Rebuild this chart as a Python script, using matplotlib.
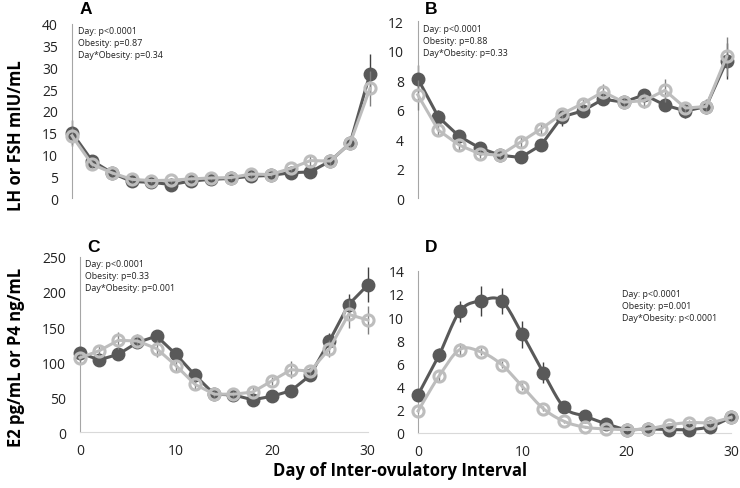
import numpy as np
import matplotlib
matplotlib.use("Agg")
import matplotlib.pyplot as plt

plt.rcParams['font.family'] = ['Open Sans', 'DejaVu Sans']

days = [0, 2, 4, 6, 8, 10, 12, 14, 16, 18, 20, 22, 24, 26, 28, 30]

# panel A: LH
lh_dark = [15.0, 8.6, 5.8, 3.8, 3.6, 3.1, 3.9, 4.3, 4.5, 5.0, 5.2, 5.8, 6.0, 8.5, 12.6, 28.6]
lh_light = [14.3, 7.8, 5.8, 4.3, 4.0, 4.1, 4.4, 4.6, 4.7, 5.5, 5.4, 6.8, 8.6, 8.5, 12.6, 25.2]
lh_dark_err = [3.0, 1.0, 0.6, 0.8, 0.8, 0.8, 0.8, 0.6, 0.6, 0.8, 0.6, 0.7, 0.6, 1.0, 1.2, 4.5]
lh_light_err = [2.0, 0.8, 0.5, 0.6, 0.6, 0.6, 0.6, 0.5, 0.5, 0.6, 0.5, 0.6, 1.2, 0.8, 1.0, 4.0]

# panel B: FSH
fsh_dark = [8.1, 5.5, 4.2, 3.4, 2.9, 2.75, 3.6, 5.5, 5.9, 6.7, 6.5, 7.0, 6.3, 5.9, 6.2, 9.3]
fsh_light = [7.0, 4.6, 3.6, 3.0, 2.9, 3.8, 4.7, 5.7, 6.4, 7.2, 6.5, 6.6, 7.3, 6.1, 6.2, 9.6]
fsh_dark_err = [0.9, 0.5, 0.4, 0.3, 0.2, 0.2, 0.3, 0.6, 0.4, 0.4, 0.3, 0.4, 0.4, 0.5, 0.4, 1.2]
fsh_light_err = [1.0, 0.4, 0.4, 0.3, 0.2, 0.4, 0.4, 0.4, 0.4, 0.5, 0.3, 0.5, 0.8, 0.4, 0.5, 1.3]

# panel C: E2
e2_dark = [113, 103, 111, 128, 137, 111, 81, 54, 53, 46, 51, 59, 81, 130, 182, 210]
e2_light = [106, 116, 131, 130, 119, 95, 68, 54, 54, 57, 73, 89, 87, 119, 168, 160]
e2_dark_err = [10, 6, 8, 8, 6, 7, 5, 4, 4, 3, 4, 4, 6, 12, 15, 25]
e2_light_err = [8, 7, 12, 10, 12, 8, 6, 4, 4, 7, 6, 12, 6, 12, 20, 20]

# panel D: P4
p4_dark = [3.3, 6.7, 10.5, 11.4, 11.4, 8.5, 5.2, 2.2, 1.45, 0.8, 0.3, 0.35, 0.3, 0.3, 0.55, 1.35]
p4_light = [1.9, 4.9, 7.2, 7.0, 5.9, 4.0, 2.1, 1.0, 0.5, 0.35, 0.3, 0.35, 0.7, 0.9, 0.9, 1.35]
p4_dark_err = [0.3, 0.6, 0.9, 1.3, 1.1, 1.2, 0.9, 0.3, 0.2, 0.1, 0.1, 0.1, 0.1, 0.1, 0.2, 0.2]
p4_light_err = [0.2, 0.4, 0.6, 0.3, 0.3, 0.3, 0.2, 0.1, 0.1, 0.1, 0.1, 0.1, 0.1, 0.2, 0.2, 0.2]

notes = {
    'A': "Day: p<0.0001\nObesity: p=0.87\nDay*Obesity: p=0.34",
    'B': "Day: p<0.0001\nObesity: p=0.88\nDay*Obesity: p=0.33",
    'C': "Day: p<0.0001\nObesity: p=0.33\nDay*Obesity: p=0.001",
    'D': "Day: p<0.0001\nObesity: p=0.001\nDay*Obesity: p<0.0001",
}

DARK = '#595959'
LIGHT = '#bdbdbd'


def smooth(x, y, n=12):
    # catmull-rom through the points, only used to draw the curved line in D
    x = np.asarray(x, float)
    y = np.asarray(y, float)
    px = np.concatenate([[2 * x[0] - x[1]], x, [2 * x[-1] - x[-2]]])
    py = np.concatenate([[2 * y[0] - y[1]], y, [2 * y[-1] - y[-2]]])
    t = np.linspace(0, 1, n, endpoint=False)[:, None]
    xs, ys = [], []
    for i in range(1, len(px) - 2):
        for arr, out in ((px, xs), (py, ys)):
            p0, p1, p2, p3 = arr[i - 1], arr[i], arr[i + 1], arr[i + 2]
            c = 0.5 * ((2 * p1) + (-p0 + p2) * t + (2 * p0 - 5 * p1 + 4 * p2 - p3) * t ** 2
                       + (-p0 + 3 * p1 - 3 * p2 + p3) * t ** 3)
            out.extend(c.ravel())
    xs.append(x[-1])
    ys.append(y[-1])
    return np.array(xs), np.array(ys)


def panel(rect, dark, light, derr, lerr, ymax, ystep, letter, note, note_xy,
          bottom=False, curved=False):
    ax = fig.add_axes(rect)
    ax.errorbar(days, dark, yerr=derr, fmt='none', ecolor='#404040', elinewidth=1, clip_on=False, zorder=2)
    ax.errorbar(days, light, yerr=lerr, fmt='none', ecolor='#808080', elinewidth=1, clip_on=False, zorder=4)
    if curved:
        ax.plot(*smooth(days, dark), color=DARK, lw=2.2, zorder=3, clip_on=False)
        ax.plot(*smooth(days, light), color=LIGHT, lw=2.2, zorder=5, clip_on=False)
    else:
        ax.plot(days, dark, color=DARK, lw=2.2, zorder=3, clip_on=False)
        ax.plot(days, light, color=LIGHT, lw=2.2, zorder=5, clip_on=False)
    ax.plot(days, dark, 'o', ms=9, color=DARK, mec=DARK, zorder=3, clip_on=False)
    ax.plot(days, light, 'o', ms=8, mfc='none', mec=LIGHT, mew=2.2, zorder=5, clip_on=False)
    ax.set_xlim(0, 30)
    ax.set_ylim(0, ymax)
    ax.set_yticks(np.arange(0, ymax + ystep / 2, ystep))
    for s in ('top', 'right'):
        ax.spines[s].set_visible(False)
    ax.spines['left'].set_color('#a6a6a6')
    ax.spines['bottom'].set_color('#d9d9d9')
    ax.spines['bottom'].set_visible(bottom)
    ax.tick_params(length=0, labelsize=10, pad=10, colors='#222222')
    if bottom:
        ax.set_xticks([0, 10, 20, 30])
        ax.tick_params(axis='x', pad=8)
    else:
        ax.set_xticks([])
    fig.text(rect[0] + 0.018, note_xy[1], letter, fontsize=12.5, fontweight='bold',
             family='Liberation Sans', ha='center', va='center')
    fig.text(note_xy[0], note_xy[2], note, fontsize=6.4, va='top', linespacing=1.45, color='#222222')
    return ax


fig = plt.figure(figsize=(7.4, 4.89), dpi=100)

panel([0.0973, 0.593, 0.4027, 0.356], lh_dark, lh_light, lh_dark_err, lh_light_err,
      40, 5, 'A', notes['A'], (0.106, 1 - 10 / 489, 1 - 27 / 489))
panel([0.5645, 0.593, 0.4175, 0.362], fsh_dark, fsh_light, fsh_dark_err, fsh_light_err,
      12, 2, 'B', notes['B'], (0.571, 1 - 10 / 489, 1 - 25 / 489))
panel([0.108, 0.1145, 0.389, 0.3579], e2_dark, e2_light, e2_dark_err, e2_light_err,
      250, 50, 'C', notes['C'], (0.115, 1 - 248 / 489, 1 - 260 / 489), bottom=True)
panel([0.565, 0.1125, 0.423, 0.3319], p4_dark, p4_light, p4_dark_err, p4_light_err,
      14, 2, 'D', notes['D'], (0.84, 1 - 248 / 489, 1 - 290 / 489), bottom=True, curved=True)

fig.text(0.022, 1 - 136 / 489, 'LH or FSH mIU/mL', rotation=90, fontsize=12,
         fontweight='bold', ha='center', va='center')
fig.text(0.022, 1 - 357 / 489, 'E2 pg/mL or P4 ng/mL', rotation=90, fontsize=12,
         fontweight='bold', ha='center', va='center')
fig.text(0.54, 1 - 471 / 489, 'Day of Inter-ovulatory Interval', fontsize=12,
         fontweight='bold', ha='center', va='center')

fig.savefig('out.png', dpi=100)
